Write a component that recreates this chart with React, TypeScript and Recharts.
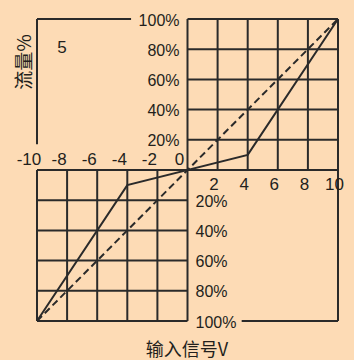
import React from "react";
import { LineChart, Line, XAxis, YAxis, ReferenceLine, ReferenceDot } from "recharts";

// characteristic curve (input signal V -> flow %)
const inputV = [-10, -4, 4, 10];
const flowPct = [-100, -10, 10, 100];
// linear reference (dashed)
const linearV = [-10, 10];
const linearPct = [-100, 100];

const upperXTicks = [-10, -8, -6, -4, -2, 0];
const lowerXTicks = [2, 4, 6, 8, 10];
const upperYTicks = [100, 80, 60, 40, 20];
const lowerYTicks = [-20, -40, -60, -80, -100];

const gridX = [0, 2, 4, 6, 8, 10];
const gridY = [0, 20, 40, 60, 80, 100];

const BG = "#fddbb5";
const INK = "#2a2a2a";
const TEXT = "#231f1c";
const FONT = "'Liberation Sans', Arial, sans-serif";
const CJK = "'Noto Sans CJK SC', sans-serif";

const curve = inputV.map((x, i) => ({ x, y: flowPct[i] }));
const linear = linearV.map((x, i) => ({ x, y: linearPct[i] }));

function TickText(props: any) {
  const { viewBox, value, dx = 0, dy = 0, anchor = "middle", baseline = "auto", size = 17 } = props;
  if (!viewBox) return null;
  return (
    <text
      x={viewBox.x + dx}
      y={viewBox.y + dy}
      textAnchor={anchor}
      dominantBaseline={baseline}
      fontSize={size}
      fontFamily={FONT}
      fill={TEXT}
    >
      {value}
    </text>
  );
}

export default function App() {
  const seg = (x1: number, y1: number, x2: number, y2: number, key: string) => (
    <ReferenceLine
      key={key}
      segment={[{ x: x1, y: y1 }, { x: x2, y: y2 }]}
      stroke={INK}
      strokeWidth={2}
      ifOverflow="visible"
    />
  );

  return (
    <div style={{ position: "absolute", left: 0, top: 0, width: 354, height: 360, background: BG }}>
      <LineChart
        width={354}
        height={360}
        margin={{ top: 19, right: 16, bottom: 39, left: 37 }}
      >
        <XAxis type="number" dataKey="x" domain={[-10, 10]} hide />
        <YAxis type="number" dataKey="y" domain={[-100, 100]} hide />

        {/* upper-right grid */}
        {gridX.map((v) => seg(v, 0, v, 100, `ur-v${v}`))}
        {gridY.map((v) => seg(0, v, 10, v, `ur-h${v}`))}
        {/* lower-left grid */}
        {gridX.map((v) => seg(-v, -100, -v, 0, `ll-v${v}`))}
        {gridY.map((v) => seg(-10, -v, 0, -v, `ll-h${v}`))}
        {/* corner frames */}
        {seg(-10, 100, -3.75, 100, "f1")}
        {seg(-10, 100, -10, 17, "f2")}
        {seg(10, 0, 10, -100, "f3")}
        {seg(3.6, -100, 10, -100, "f4")}

        <Line
          data={linear}
          dataKey="y"
          type="linear"
          stroke={INK}
          strokeWidth={2}
          strokeDasharray="7 4"
          dot={false}
          isAnimationActive={false}
        />
        <Line
          data={curve}
          dataKey="y"
          type="linear"
          stroke={INK}
          strokeWidth={2}
          dot={false}
          isAnimationActive={false}
        />

        {upperXTicks.map((v) => (
          <ReferenceDot key={`ux${v}`} x={v} y={0} r={0} fill="none" stroke="none" ifOverflow="visible"
            label={<TickText value={String(v)} dx={-8} dy={-5} />} />
        ))}
        {lowerXTicks.map((v) => (
          <ReferenceDot key={`lx${v}`} x={v} y={0} r={0} fill="none" stroke="none" ifOverflow="visible"
            label={<TickText value={String(v)} dx={-3.5} dy={20} />} />
        ))}
        {upperYTicks.map((v) => (
          <ReferenceDot key={`uy${v}`} x={0} y={v} r={0} fill="none" stroke="none" ifOverflow="visible"
            label={<TickText value={`${v}%`} dx={-8} dy={1} anchor="end" baseline="central" size={16} />} />
        ))}
        {lowerYTicks.map((v) => (
          <ReferenceDot key={`ly${v}`} x={0} y={v} r={0} fill="none" stroke="none" ifOverflow="visible"
            label={<TickText value={`${-v}%`} dx={8} dy={1} anchor="start" baseline="central" size={16} />} />
        ))}
      </LineChart>

      <svg width={354} height={360} style={{ position: "absolute", left: 0, top: 0, pointerEvents: "none" }}>
        <text x={62} y={47} textAnchor="middle" dominantBaseline="central" fontSize={17} fontFamily={FONT} fill={TEXT}>
          5
        </text>
        <text
          x={22}
          y={62}
          transform="rotate(-90 22 62)"
          textAnchor="middle"
          dominantBaseline="central"
          fontSize={19}
          fontFamily={CJK}
          fill={TEXT}
        >
          流量%
        </text>
        <text x={187} y={348} textAnchor="middle" dominantBaseline="central" fontSize={18} fontFamily={CJK} fill={TEXT}>
          输入信号V
        </text>
      </svg>
    </div>
  );
}
